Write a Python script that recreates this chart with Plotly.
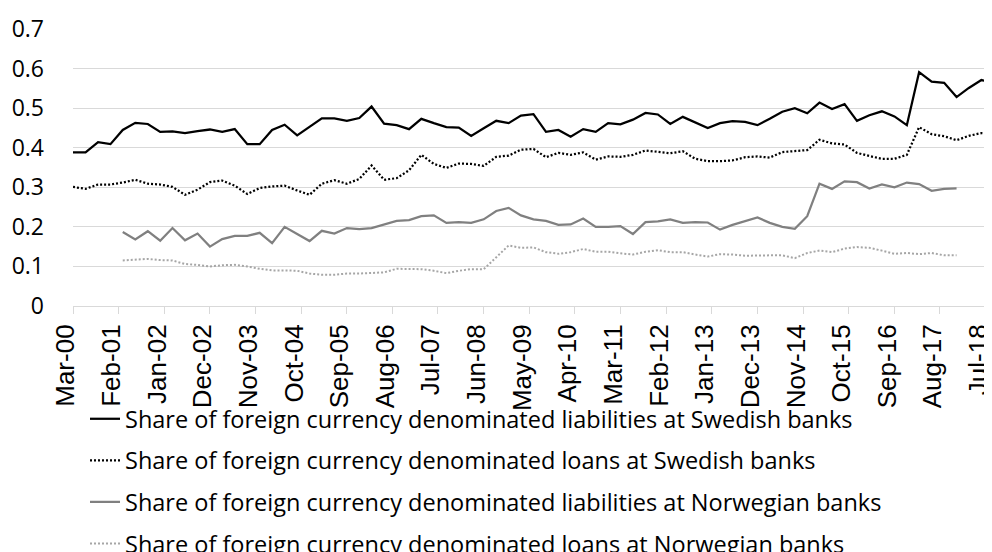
import plotly.graph_objects as go
import pandas as pd

# Quarterly observation dates (Mar-00 ... Sep-18)
dates = pd.date_range("2000-03-01", periods=75, freq="3MS")
# Axis labels every 11 months (Mar-00 ... Jul-18)
tick_dates = pd.date_range("2000-03-01", periods=21, freq="11MS")

names = [
    "Share of foreign currency denominated liabilities at Swedish banks",
    "Share of foreign currency denominated loans at Swedish banks",
    "Share of foreign currency denominated liabilities at Norwegian banks",
    "Share of foreign currency denominated loans at Norwegian banks",
]

swe_liab = [0.388, 0.388, 0.414, 0.409, 0.445, 0.463, 0.460, 0.440, 0.441, 0.437,
            0.442, 0.446, 0.440, 0.447, 0.409, 0.409, 0.445, 0.458, 0.431, 0.452,
            0.474, 0.474, 0.468, 0.475, 0.504, 0.461, 0.457, 0.447, 0.473, 0.462,
            0.452, 0.451, 0.430, 0.449, 0.468, 0.462, 0.481, 0.485, 0.440, 0.445,
            0.428, 0.447, 0.440, 0.462, 0.459, 0.471, 0.488, 0.484, 0.460, 0.478,
            0.464, 0.450, 0.462, 0.467, 0.465, 0.457, 0.473, 0.491, 0.500, 0.487,
            0.514, 0.498, 0.510, 0.468, 0.482, 0.492, 0.479, 0.457, 0.591, 0.567,
            0.564, 0.528, 0.551, 0.571, 0.564]

swe_loans = [0.301, 0.296, 0.307, 0.307, 0.312, 0.319, 0.309, 0.307, 0.301, 0.281,
             0.294, 0.313, 0.317, 0.304, 0.283, 0.298, 0.302, 0.304, 0.292, 0.281,
             0.309, 0.318, 0.309, 0.321, 0.355, 0.319, 0.323, 0.343, 0.382, 0.359,
             0.349, 0.360, 0.359, 0.354, 0.377, 0.380, 0.395, 0.397, 0.376, 0.387,
             0.382, 0.388, 0.370, 0.378, 0.377, 0.382, 0.393, 0.390, 0.386, 0.391,
             0.372, 0.366, 0.366, 0.368, 0.376, 0.378, 0.375, 0.389, 0.392, 0.394,
             0.420, 0.411, 0.408, 0.387, 0.379, 0.372, 0.372, 0.382, 0.452, 0.434,
             0.429, 0.419, 0.430, 0.437, 0.435]

nor_liab = [None, None, None, None,
            0.187, 0.168, 0.189, 0.165, 0.197, 0.166, 0.183, 0.150, 0.169, 0.177,
            0.177, 0.185, 0.159, 0.200, 0.182, 0.164, 0.190, 0.183, 0.197, 0.194,
            0.197, 0.207, 0.215, 0.217, 0.227, 0.229, 0.210, 0.212, 0.210, 0.219,
            0.240, 0.248, 0.229, 0.219, 0.215, 0.205, 0.206, 0.221, 0.200, 0.200,
            0.202, 0.182, 0.212, 0.214, 0.219, 0.210, 0.212, 0.211, 0.193, 0.205,
            0.214, 0.224, 0.210, 0.200, 0.195, 0.227, 0.309, 0.296, 0.315, 0.313,
            0.297, 0.307, 0.300, 0.312, 0.308, 0.291, 0.296, 0.297,
            None, None, None]

nor_loans = [None, None, None, None,
             0.115, 0.117, 0.119, 0.116, 0.115, 0.106, 0.104, 0.100, 0.103, 0.104,
             0.100, 0.094, 0.090, 0.090, 0.089, 0.082, 0.079, 0.079, 0.082, 0.082,
             0.083, 0.085, 0.094, 0.094, 0.093, 0.089, 0.083, 0.089, 0.093, 0.093,
             0.123, 0.153, 0.147, 0.148, 0.136, 0.132, 0.136, 0.144, 0.137, 0.137,
             0.133, 0.130, 0.137, 0.141, 0.136, 0.136, 0.130, 0.125, 0.131, 0.130,
             0.127, 0.128, 0.128, 0.128, 0.121, 0.134, 0.140, 0.136, 0.145, 0.149,
             0.147, 0.140, 0.132, 0.134, 0.131, 0.134, 0.128, 0.128,
             None, None, None]

series = [swe_liab, swe_loans, nor_liab, nor_loans]
styles = [
    dict(color="#000000", width=2.25, dash="solid"),
    dict(color="#000000", width=2.25, dash="2px,2px"),
    dict(color="#808080", width=2.25, dash="solid"),
    dict(color="#a6a6a6", width=2.0, dash="2px,2px"),
]

fig = go.Figure()
for i, (nm, ys, st) in enumerate(zip(names, series, styles)):
    fig.add_trace(go.Scatter(
        x=dates, y=ys, name=nm, mode="lines", line=st,
        connectgaps=False, legendgroup=f"g{i}",
    ))

fig.update_layout(
    width=992, height=552,
    paper_bgcolor="white", plot_bgcolor="white",
    margin=dict(l=65, r=2, t=21, b=254, autoexpand=False),
    showlegend=True,
    legend=dict(
        orientation="v",
        x=(77 - 65) / 925, xanchor="left",
        y=-(389 - 298) / 277, yanchor="top",
        font=dict(family="Open Sans, Lato, sans-serif", size=23.5, color="#000000"),
        itemwidth=30,
        tracegroupgap=8,
        bgcolor="rgba(0,0,0,0)",
    ),
    font=dict(family="Open Sans, sans-serif", color="#000000"),
)

fig.update_xaxes(
    type="date",
    range=["2000-03-01", "2018-10-01"],
    tickvals=tick_dates,
    tickformat="%b-%y",
    tickangle=-90,
    tickfont=dict(family="Liberation Sans, Arial, sans-serif", size=26, color="#000000"),
    ticks="outside", ticklen=7, tickcolor="#d9d9d9", tickwidth=1,
    showline=True, linecolor="#d9d9d9", linewidth=1,
    showgrid=False, zeroline=False,
    ticklabelstandoff=0,
    ticklabelshift=-7,
)

fig.update_yaxes(
    range=[0, 0.7], dtick=0.1, tick0=0,
    tickfont=dict(family="Open Sans, sans-serif", size=23, color="#000000"),
    showgrid=True, gridcolor="#d9d9d9", gridwidth=1,
    zeroline=False, showline=False, ticks="",
    ticklabelstandoff=28,
)

fig.write_html("out.html")
